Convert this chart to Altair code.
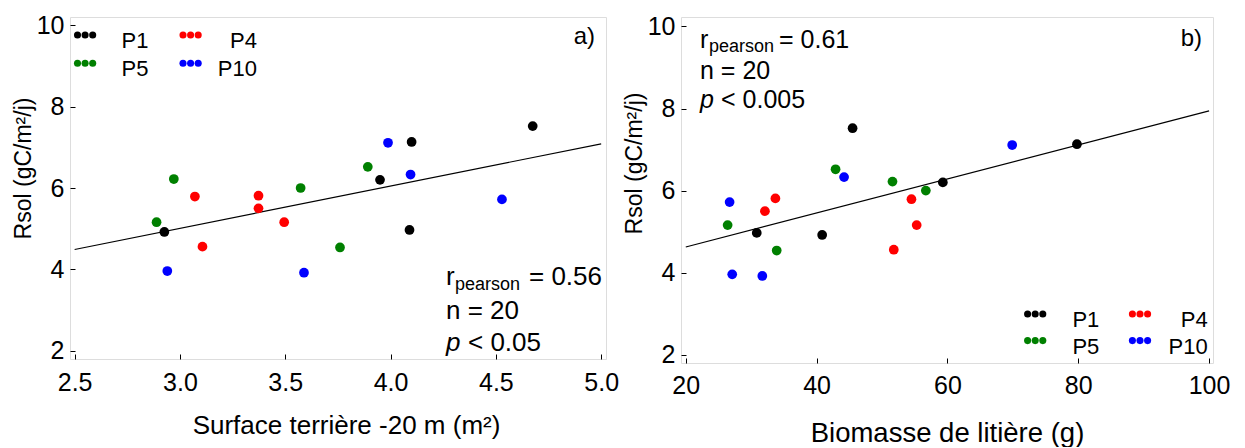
import altair as alt
import pandas as pd

# ---------------- data ----------------
groups = ["P1", "P10", "P1", "P5", "P10", "P5", "P1", "P5", "P10", "P4",
          "P4", "P4", "P5", "P4", "P1", "P1", "P4", "P5", "P10", "P10"]
rsol = [7.52, 7.11, 7.13, 6.52, 6.33, 6.22, 6.20, 6.00, 5.72, 5.81,
        5.79, 5.50, 5.16, 5.16, 4.92, 4.97, 4.56, 4.54, 3.96, 3.92]
surface = [4.675, 3.988, 4.10, 3.892, 4.095, 2.971, 3.95, 3.573, 4.529, 3.373,
           3.071, 3.373, 2.889, 3.495, 2.926, 4.09, 3.107, 3.76, 2.94, 3.589]
biomasse = [45.5, 69.9, 79.8, 42.9, 44.2, 51.6, 59.3, 56.7, 26.7, 33.7,
            54.5, 32.1, 26.4, 55.3, 40.85, 30.85, 51.8, 33.9, 27.1, 31.7]

legend_labels = ["P1", "P4", "P5", "P10"]
legend_colors = ["#000000", "#ff0000", "#008000", "#0000ff"]

ticks_a = [2.5, 3.0, 3.5, 4.0, 4.5, 5.0]
ticks_b = [20, 40, 60, 80, 100]
ticks_y = [2, 4, 6, 8, 10]

stats_a = ["0.56", "20", "0.05"]
stats_b = ["0.61", "20", "0.005"]

df = pd.DataFrame({"group": groups, "rsol": rsol,
                   "surface": surface, "biomasse": biomasse})

FONT = "Liberation Sans"


def txt(s, px, py, size=26, align="left", style="normal", baseline="alphabetic"):
    return alt.Chart(pd.DataFrame({"t": [s]})).mark_text(
        align=align, baseline=baseline, fontSize=size, font=FONT,
        fontStyle=style, color="black"
    ).encode(x=alt.value(px), y=alt.value(py), text="t:N")


def legend_layers(x0, y0, col_dx, text_x, row_dy):
    layers = []
    for i, (lab, colr) in enumerate(zip(legend_labels, legend_colors)):
        c, r = i % 2, i // 2
        bx = x0 + c * col_dx
        by = y0 + r * row_dy
        for k in range(3):
            layers.append(
                alt.Chart(pd.DataFrame({"g": [lab]})).mark_circle(
                    size=50, opacity=1, color=colr
                ).encode(x=alt.value(bx + k * 7.6), y=alt.value(by))
            )
        layers.append(txt(lab, text_x[c], by + 13, size=22, align="right"))
    return layers


def panel(xfield, xtitle, xdom, xticks, xfmt, xext, ydom,
          xtitle_x, xtitle_y, xtitle_size, ytitle_y, xlabel_pad):
    base = alt.Chart(df)
    xaxis = alt.Axis(values=xticks, format=xfmt, grid=False, domain=False,
                     tickSize=5, offset=-5, tickColor="black",
                     labelFontSize=25, labelFont=FONT, labelColor="black",
                     labelPadding=xlabel_pad, title=xtitle, titleFont=FONT,
                     titleFontSize=xtitle_size, titleFontWeight="normal",
                     titleColor="black", titleX=xtitle_x, titleY=xtitle_y,
                     titleBaseline="middle", titleAlign="center")
    yaxis = alt.Axis(values=ticks_y, format="d", grid=False, domain=False,
                     tickSize=5, offset=-5, tickColor="black",
                     labelFontSize=25, labelFont=FONT, labelColor="black",
                     labelPadding=6, title="Rsol (gC/m²/j)", titleFont=FONT,
                     titleFontSize=23, titleFontWeight="normal",
                     titleColor="black", titleX=-52, titleY=ytitle_y,
                     titleBaseline="middle", titleAlign="center", titleAngle=270)
    pts = base.mark_circle(size=95, opacity=1).encode(
        x=alt.X(f"{xfield}:Q", scale=alt.Scale(domain=xdom, nice=False, zero=False),
                axis=xaxis),
        y=alt.Y("rsol:Q", scale=alt.Scale(domain=ydom, nice=False, zero=False),
                axis=yaxis),
        color=alt.Color("group:N", scale=alt.Scale(domain=legend_labels,
                                                   range=legend_colors),
                        legend=None),
    )
    line = base.transform_regression(xfield, "rsol", extent=xext).mark_line(
        color="black", strokeWidth=1.2
    ).encode(x=f"{xfield}:Q", y="rsol:Q")
    return line, pts


line_a, pts_a = panel("surface", "Surface terrière -20 m (m²)", [2.478, 5.023],
                      ticks_a, ".1f", [2.5, 5.0], [1.8, 10.2],
                      276, 71, 26, 151, 11)
line_b, pts_b = panel("biomasse", "Biomasse de litière (g)", [19.27, 100.6],
                      ticks_b, "d", [20, 100], [1.8, 10.23],
                      266, 75, 27.5, 146, 10)

ann_a = [
    txt("a)", 525, 27, size=24, align="right"),
    txt("r", 376, 268),
    txt("pearson", 385, 273, size=18),
    txt("= " + stats_a[0], 532, 268, align="right"),
    txt("n = " + stats_a[1], 376, 302),
    txt("p", 376, 334, style="italic"),
    txt("< " + stats_a[2], 398, 334),
]
ann_b = [
    txt("b)", 521, 29, size=24, align="right"),
    txt("r", 19, 31, size=25),
    txt("pearson", 28, 35, size=18),
    txt("= " + stats_b[0], 98, 31, size=25),
    txt("n = " + stats_b[1], 19, 62, size=25),
    txt("p", 19, 91, size=25, style="italic"),
    txt("< " + stats_b[2], 40, 91, size=25),
]

leg_a = legend_layers(7.5, 18, 105.5, [78.5, 187], 28.3)
leg_b = legend_layers(346.6, 297, 104.8, [418.3, 526.7], 26.6)

chart_a = alt.layer(line_a, pts_a, *leg_a, *ann_a).properties(width=536, height=342)
chart_b = alt.layer(line_b, pts_b, *leg_b, *ann_b).properties(width=532, height=346)

chart = alt.hconcat(chart_a, chart_b, spacing=75, bounds="flush").properties(
    padding={"left": 3, "top": 4, "right": 0, "bottom": 0}
).configure_view(
    stroke="#4d4d4d", strokeWidth=1.3
).configure(background="white")

chart.save("out.html", embed_options={"renderer": "svg", "actions": False})
